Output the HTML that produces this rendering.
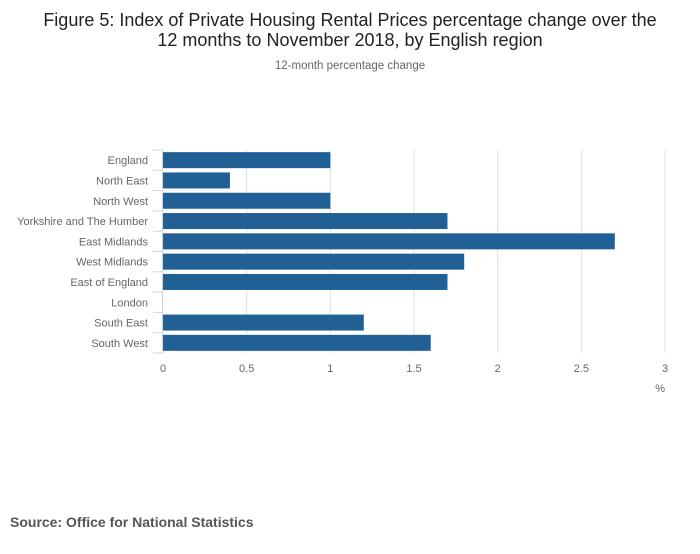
<!DOCTYPE html>
<html><head><meta charset="utf-8"><style>
body{margin:0;background:#fff;font-family:"Liberation Sans",sans-serif}
</style></head><body>
<svg width="700" height="549" xmlns="http://www.w3.org/2000/svg">
<text x="350" y="26" text-anchor="middle" font-size="18" fill="#222">Figure 5: Index of Private Housing Rental Prices percentage change over the</text>
<text x="350" y="46" text-anchor="middle" font-size="18" fill="#222">12 months to November 2018, by English region</text>
<text x="350" y="69" text-anchor="middle" font-size="11.5" fill="#666">12-month percentage change</text>
<g id="grid"></g><g id="bars"></g><g id="cats"></g><g id="ticks"></g>
<text x="665" y="392" text-anchor="end" font-size="11" fill="#666">%</text>
<text x="10" y="527" font-size="14" font-weight="bold" fill="#555">Source: Office for National Statistics</text>
</svg>
<script>
const categories=["England","North East","North West","Yorkshire and The Humber","East Midlands","West Midlands","East of England","London","South East","South West"];
const values=[1.0,0.4,1.0,1.7,2.7,1.8,1.7,0.0,1.2,1.6];
const tickValues=[0,0.5,1,1.5,2,2.5,3];
const tickLabels=["0","0.5","1","1.5","2","2.5","3"];
const NS="http://www.w3.org/2000/svg";
const x0=163,x1=665,yTop=150,yBot=353,xMax=3;
const xs=v=>x0+(v/xMax)*(x1-x0);
const band=(yBot-yTop)/categories.length;
function mk(t,a,p){const e=document.createElementNS(NS,t);for(const k in a)e.setAttribute(k,a[k]);p.appendChild(e);return e;}
const g=document.getElementById('grid'),b=document.getElementById('bars'),c=document.getElementById('cats'),tk=document.getElementById('ticks');
tickValues.forEach((v,i)=>{
 if(i>0){const l=mk('line',{x1:xs(v),x2:xs(v),y1:yTop,y2:yBot,stroke:'#e0e0e0','stroke-width':1},g);
 
 }
 const t=mk('text',{x:xs(v),y:372,'text-anchor':'middle','font-size':11,fill:'#666'},tk);
 t.textContent=tickLabels[i];
 
 
});
const ax=mk('line',{x1:x0-0.5,x2:x0-0.5,y1:yTop,y2:yBot,stroke:'#ccd6eb','stroke-width':1},g);


for(let i=0;i<=categories.length;i++){const y=yTop+i*band;
 const tl=mk('line',{x1:x0-10,x2:x0,y1:y,y2:y,stroke:'#ccd6eb','stroke-width':1},g);
 
 }
categories.forEach((cat,i)=>{
 const yc=yTop+band*(i+0.5);
 const r=mk('rect',{x:x0,y:yc-8,width:Math.max(0,xs(values[i])-x0),height:16,fill:'#206095'},b);
 
 
 const t=mk('text',{x:148,y:yc+4,'text-anchor':'end','font-size':11,fill:'#666'},c);
 t.textContent=cat;
 
 
});
</script>
</body></html>
